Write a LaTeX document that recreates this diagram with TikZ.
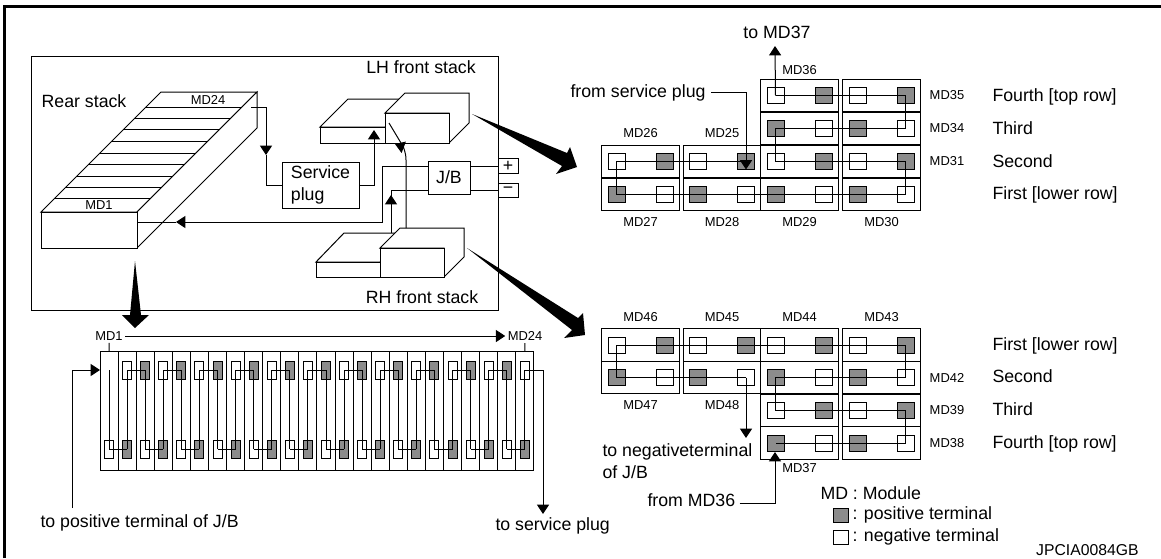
\documentclass[tikz,border=0pt]{standalone}
\usepackage{fontspec}
\setmainfont{Liberation Sans}
\usetikzlibrary{positioning,arrows.meta}

\newcommand{\modcell}[5]{%
  \node[cell] (#1) at (#2,#3) {};
  \node[#4] (#1L) at (#2-24,#3) {};
  \node[#5] (#1R) at (#2+24,#3) {};
}

\begin{document}
\begin{tikzpicture}[x=0.75pt,y=-0.75pt,>={Triangle[length=7pt,width=9pt]},line width=0.75pt,
    wire/.style={draw,line width=0.75pt},
    txt/.style={font=\fontsize{13.3}{16.5}\selectfont,inner sep=0pt,align=left},
    note/.style={txt,yshift=-1.8pt},
    lab/.style={font=\fontsize{9.7}{11}\selectfont,inner sep=1.5pt},
    box/.style={draw,fill=white,outer sep=0pt,inner sep=0pt},
    cell/.style={box,minimum width=58.1pt,minimum height=24.6pt},
    modrear/.style={box,minimum width=13.56pt,minimum height=89.25pt},
    minusterm/.style={box,minimum width=12.75pt,minimum height=12pt},
    plusterm/.style={minusterm,fill=black!45},
    rearterm/.style={minimum width=6.75pt,minimum height=13.5pt}]
  \useasboundingbox (0,0) rectangle (1161,558);
  \draw[line width=2.4pt] (4.5,558) -- (4.5,6.2) -- (1161,6.2);

  % battery pack outline
  \node[box,minimum width=350.25pt,minimum height=190.5pt] (pack) at (264.5,183) {};
  \node[note,anchor=mid] (rearlab) at (84,102) {Rear stack};
  \node[note,anchor=mid] (lhlab) at (421,68) {LH front stack};
  \node[note,anchor=mid] (rhlab) at (422,298) {RH front stack};

  % rear stack
  \draw[fill=white] (41,212) -- (161,92) -- (257,92) -- (137,212) -- cycle;
  \draw[fill=white] (137,212) -- (257,92) -- (257,128) -- (137,248) -- cycle;
  \node[box,minimum width=72pt,minimum height=27pt] (rearfront) at (89,230) {};
  \foreach \y in {198,187,176,164,153,141,129,118,107}
    \draw (253-\y,\y) -- (349-\y,\y);
  \node[lab,anchor=mid,fill=white,inner sep=0.5pt] (md24top) at (208,101) {MD24};
  \node[lab,anchor=mid] (md1top) at (99,206) {MD1};

  % LH front stack
  \draw[fill=white] (320,127) -- (348,99) -- (413,99) -- (385,127) -- cycle;
  \node[box,minimum width=48.75pt,minimum height=12pt] (lhsmall) at (352.5,135) {};
  \draw[fill=white] (385,113) -- (405,93) -- (469,93) -- (469,123) -- (449,143) -- (449,113) -- cycle;
  \node[box,minimum width=48pt,minimum height=22.5pt] (lhlarge) at (417,128) {};
  % RH front stack
  \draw[fill=white] (316,262) -- (344,233) -- (409,233) -- (380,262) -- cycle;
  \node[box,minimum width=48pt,minimum height=11.25pt] (rhsmall) at (348,269.5) {};
  \draw[fill=white] (380,248) -- (400,228) -- (464,228) -- (464,257) -- (444,277) -- (444,248) -- cycle;
  \node[box,minimum width=48pt,minimum height=21.75pt] (rhlarge) at (412,262.5) {};

  \node[box,txt,minimum width=57.75pt,minimum height=34.5pt] (plug) at (320.5,185) {Service\\plug};
  \node[box,txt,minimum width=31.5pt,minimum height=24.75pt] (jb) at (449,177.5) {J/B};
  \node[box,txt,minimum width=15pt,minimum height=11.25pt] (plusbox) at (508,166) {+};
  \node[box,txt,minimum width=15pt,minimum height=10.5pt] (minusbox) at (508,190) {−};

  \coordinate (md24out) at (251,107);
  \coordinate (plugin) at (266,155);
  \coordinate (lhsmallin) at (374,130);
  \coordinate (lhdiag) at (389,123);
  \coordinate (lhfoot) at (401,143);
  \coordinate (rhtop) at (406,228);
  \coordinate (lhtip) at (395,144);
  \coordinate (rearin) at (137,222);
  \coordinate (rearmid) at (176,222);
  \coordinate (rhsmalltop) at (391,233);
  \coordinate (jbmid) at (391,195);
  \draw[wire,->] (md24out) -| (plugin);
  \draw[wire] (plugin) |- (plug.west);
  \draw[wire,->] (plug.east) -| (lhsmallin);
  \draw[wire] (lhdiag) -- (lhfoot);
  \draw[wire,->] (rhtop) -- (406,160) .. controls (406,152) and (403,147) .. (lhtip);
  \draw[wire,->] (jb.west |- plusbox) -| (382,222) -- (rearmid);
  \draw[wire] (rearmid) -- (rearin);
  \draw[wire] (jb.west |- minusbox) -| (rhsmalltop);
  \draw[wire,->] (rhsmalltop) -- (jbmid);
  \draw[wire] (jb.east |- plusbox) -- (plusbox);
  \draw[wire] (jb.east |- minusbox) -- (minusbox);

  % pointers to the stack details
  \fill (135,261) -- (141,315) -- (149,315) -- (135,328) -- (122,315) -- (130,315) -- cycle;
  \fill (472,114) -- (567,153) -- (570,147) -- (577,167) -- (556,174) -- (562,166) -- cycle;
  \fill (467,248) -- (578,318) -- (583,313) -- (585,335) -- (564,338) -- (572,330) -- cycle;

  % rear stack modules
  \foreach \i in {1,...,24}
    \node[modrear] (rm\i) at (100+18.08*\i-9.04,410.5) {};
  \foreach \i in {2,...,24}{
    \ifodd\i \def\topsty{plusterm}\def\botsty{minusterm}
    \else \def\topsty{minusterm}\def\botsty{plusterm}\fi
    \node[\topsty,rearterm] (rt\i) at (100+18.08*\i-9.04,370) {};
    \node[\botsty,rearterm] (rb\i) at (100+18.08*\i-9.04,449) {};
  }
  \node[minusterm,rearterm] (rb1) at (109,449) {};
  \coordinate (rt1) at (109,370);
  \foreach \i in {1,...,24}
    \draw[wire] (rt\i.center) -- (rb\i.center);
  \foreach \i in {2,4,...,22}{
    \pgfmathtruncatemacro{\nxt}{\i+1}
    \draw[wire] (rt\i.center) -- (rt\nxt.center);
  }
  \foreach \i in {1,3,...,23}{
    \pgfmathtruncatemacro{\nxt}{\i+1}
    \draw[wire] (rb\i.center) -- (rb\nxt.center);
  }
  \node[lab] (md1) at (109,336) {MD1};
  \node[lab] (md24) at (525,336) {MD24};
  \draw[wire,->] (md1) -- (md24);
  \draw[wire] (md1) -- (rm1);
  \draw[wire] (md24) -- (rm24);
  \node[note,anchor=mid west] (posnote) at (40,522) {to positive terminal of J/B};
  \node[note,anchor=mid west] (plugnote) at (495,525) {to service plug};
  \coordinate (posfoot) at (72,508);
  \coordinate (plugfoot) at (543,514);
  \draw[wire,->] (posfoot) |- (rm1.west |- rt1);
  \draw[wire,->] (rt24.center) -| (plugfoot);

  % LH front stack modules
  \foreach \b/\x in {1/640.5,2/722,3/799.5,4/881.5}{
    \modcell{u\b1}{\x}{194.5}{plusterm}{minusterm}
    \modcell{u\b2}{\x}{161.5}{minusterm}{plusterm}
  }
  \foreach \b/\x in {3/799.5,4/881.5}{
    \modcell{u\b3}{\x}{128.5}{plusterm}{minusterm}
    \modcell{u\b4}{\x}{95.5}{minusterm}{plusterm}
  }
  \draw[wire] (u34L.center) -- (u44R.center) -- (u43R.center) -- (u33L.center) -- (u32L.center)
    -- (u42R.center) -- (u41R.center) -- (u11L.center) -- (u12L.center) -- (u22R.center);
  \node[note,anchor=mid] (toup) at (777,33) {to MD37};
  \coordinate (upout) at (775,46);
  \draw[wire,->] (u34L.center) -- (upout);
  \node[note,anchor=mid west] (fromplug) at (570,92) {from service plug};
  \draw[wire,->] ([xshift=4pt]fromplug.east |- 0,92) -| ([yshift=-6pt]u22R.center);
  \node[lab,above=3.5pt of u12] (md26) {MD26};
  \node[lab,above=3.5pt of u22] (md25) {MD25};
  \node[lab,above=1.5pt of u34] (md36) {MD36};
  \node[lab,below=3pt of u11] (md27) {MD27};
  \node[lab,below=3pt of u21] (md28) {MD28};
  \node[lab,below=3pt of u31] (md29) {MD29};
  \node[lab,below=3pt of u41] (md30) {MD30};
  \node[lab,right=5.25pt of u44] (md35) {MD35};
  \node[lab,right=5.25pt of u43] (md34) {MD34};
  \node[lab,right=5.25pt of u42] (md31) {MD31};
  \node[note,anchor=mid west] (fourthu) at (992,96) {Fourth [top row]};
  \node[note,anchor=mid west] (thirdu) at (992,129) {Third};
  \node[note,anchor=mid west] (secondu) at (992,162) {Second};
  \node[note,anchor=mid west] (firstu) at (992,194) {First [lower row]};

  % RH front stack modules
  \foreach \b/\x in {1/640.5,2/722,3/799.5,4/881.5}{
    \modcell{d\b1}{\x}{345}{minusterm}{plusterm}
    \modcell{d\b2}{\x}{377.5}{plusterm}{minusterm}
  }
  \foreach \b/\x in {3/799.5,4/881.5}{
    \modcell{d\b3}{\x}{410.5}{minusterm}{plusterm}
    \modcell{d\b4}{\x}{443}{plusterm}{minusterm}
  }
  \draw[wire] (d22R.center) -- (d12L.center) -- (d11L.center) -- (d41R.center) -- (d42R.center)
    -- (d32L.center) -- (d33L.center) -- (d43R.center) -- (d44R.center) -- (d34L.center);
  \coordinate (dnout) at (746,438);
  \draw[wire,->] (d22R.center) -- (dnout);
  \node[txt,anchor=north west] (tojb) at (602,443) {to negativeterminal\\of J/B};
  \node[note,anchor=mid west] (fromup) at (647,501) {from MD36};
  \coordinate (dnin) at (775,452);
  \draw[wire,->] ([xshift=3pt]fromup.east |- 0,503) -| (dnin);
  \node[lab,above=3.5pt of d11] (md46) {MD46};
  \node[lab,above=3.5pt of d21] (md45) {MD45};
  \node[lab,above=3.5pt of d31] (md44) {MD44};
  \node[lab,above=3.5pt of d41] (md43) {MD43};
  \node[lab,below=3pt of d12] (md47) {MD47};
  \node[lab,below=3pt of d22] (md48) {MD48};
  \node[lab,below=1.5pt of d34] (md37) {MD37};
  \node[lab,right=5.25pt of d42] (md42) {MD42};
  \node[lab,right=5.25pt of d43] (md39) {MD39};
  \node[lab,right=5.25pt of d44] (md38) {MD38};
  \node[note,anchor=mid west] (firstd) at (992,345) {First [lower row]};
  \node[note,anchor=mid west] (secondd) at (992,377) {Second};
  \node[note,anchor=mid west] (thirdd) at (992,410) {Third};
  \node[note,anchor=mid west] (fourthd) at (992,443) {Fourth [top row]};

  % legend
  \node[note,anchor=mid west] (legmd) at (820,494) {MD : Module};
  \node[plusterm,minimum width=11.25pt,minimum height=10.5pt] (legplus) at (840.5,515) {};
  \node[minusterm,minimum width=11.25pt,minimum height=10.5pt] (legminus) at (840.5,537) {};
  \node[txt,right=3pt of legplus] (legplustxt) {: positive terminal};
  \node[txt,right=3pt of legminus] (legminustxt) {: negative terminal};
  \node[font=\fontsize{11.8}{13}\selectfont,inner sep=0pt,anchor=mid east,yshift=-1pt] (code) at (1139,551) {JPCIA0084GB};
\end{tikzpicture}
\end{document}
